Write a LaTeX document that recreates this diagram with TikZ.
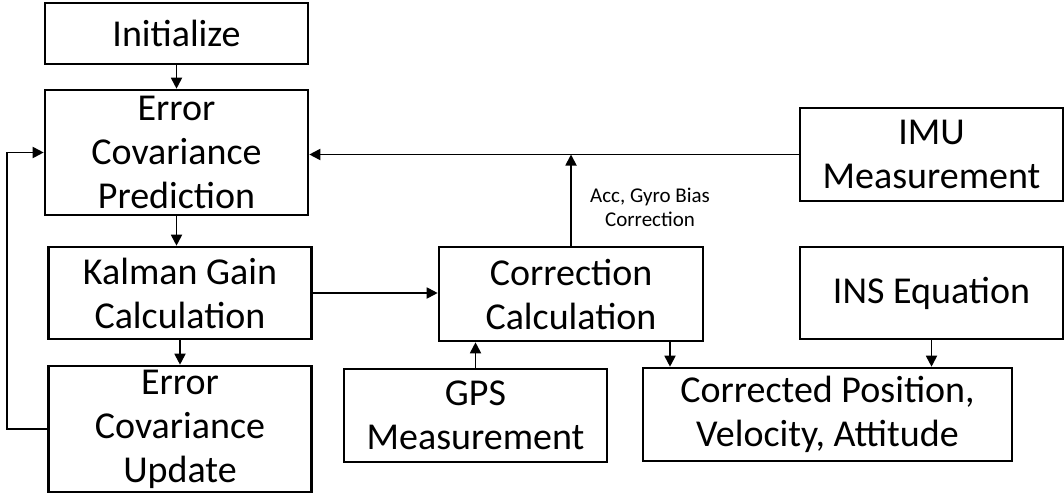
\documentclass[tikz,border=0pt]{standalone}
\usepackage{fontspec}
\setmainfont{Carlito}
\usepackage{tikz}
\usetikzlibrary{arrows.meta}
\usetikzlibrary{positioning}
\tikzset{blk/.style = {draw, line width=2.6pt, inner sep=0pt, align=center,
                       minimum width=263pt, font=\fontsize{38}{44}\selectfont},
         flow/.style = {line width=1.8pt, -{Triangle[length=11pt, width=11pt]}}}

\begin{document}
\begin{tikzpicture}[x=1pt, y=-1pt]
     \useasboundingbox (0, 0) rectangle (1064, 495);
     \node [blk, minimum height=61pt] (init) at (176.5, 33.5) {Initialize};
     \node [blk, minimum height=125pt] (ecp) at (176.5, 152.5) {Error\\Covariance\\Prediction};
     \node [blk, minimum height=92pt] (kalman) at (180, 293) {Kalman Gain\\Calculation};
     \node [blk, minimum height=126pt] (ecu) at (180, 429) {Error\\Covariance\\Update};
     \node [blk, minimum height=94pt, minimum width=264pt] (corr) at (571, 294) {Correction\\Calculation};
     \node [blk, minimum height=93pt] (gps) at (475.5, 415.5) {GPS\\Measurement};
     \node [blk, minimum height=93pt] (imu) at (931.5, 154.5) {IMU\\Measurement};
     \node [blk, minimum height=92pt] (ins) at (931.5, 293) {INS Equation};
     \node [blk, minimum height=93pt, minimum width=369pt] (cpva) at (827.5, 414.5) {Corrected Position,\\Velocity, Attitude};
     \node [align=center, font=\fontsize{21}{24}\selectfont] (biaslabel) at (650, 207) {Acc, Gyro Bias\\Correction};
     \draw [flow] (init.south) -- (ecp.north);
     \draw [flow] (ecp.south) -- (ecp.south |- kalman.north);
     \draw [flow] (kalman.south) -- (ecu.north);
     \draw [flow] (ecu.west) -- ++(-40, 0) |- (ecp.west);
     \draw [flow] (imu.west) -- (imu.west -| ecp.east);
     \draw [flow] (corr.north) -- (corr.north |- imu.west);
     \draw [flow] (kalman.east) -- (kalman.east -| corr.west);
     \draw [flow] (gps.north) -- (gps.north |- corr.south);
     \draw [flow] (corr.south -| 670, 0) -- (670, 0 |- cpva.north);
     \draw [flow] (ins.south) -- (ins.south |- cpva.north);
    \end{tikzpicture}
\end{document}
